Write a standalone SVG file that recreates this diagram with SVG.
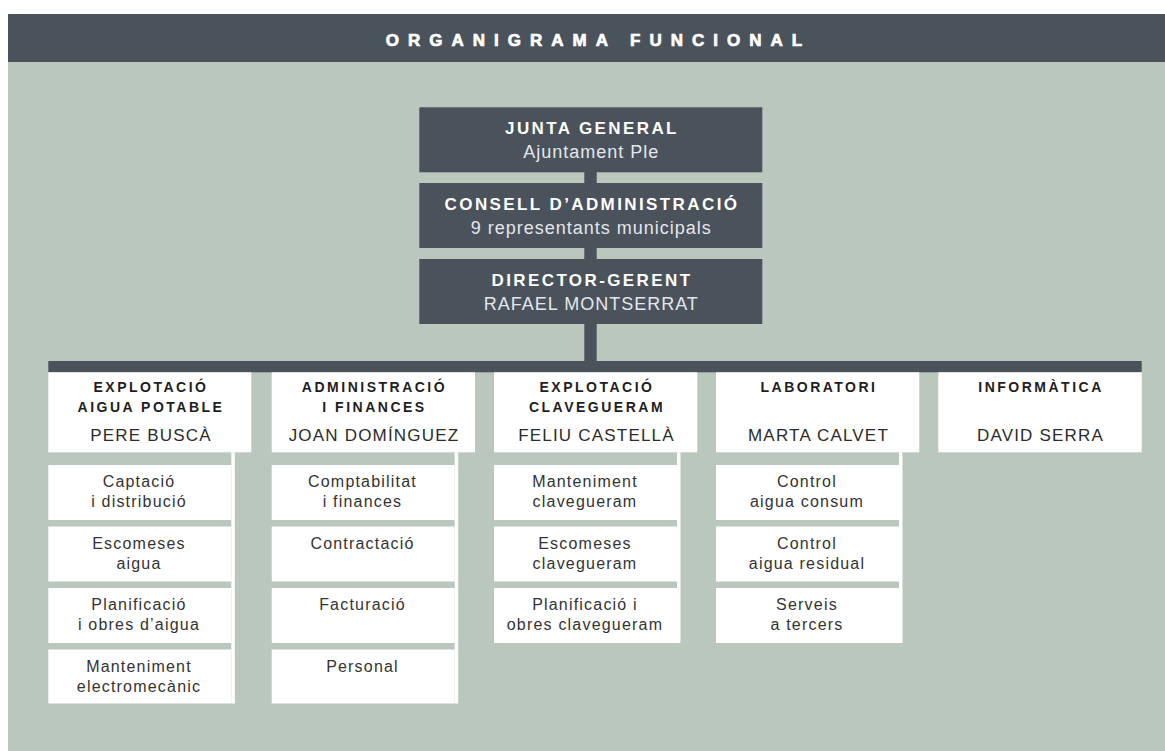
<svg xmlns="http://www.w3.org/2000/svg" width="1165" height="751" viewBox="0 0 1165 751">
<style>
.bg{fill:#b9c7bd}
.dark{fill:#4a525c}
.wbox{fill:#ffffff}
.hdr{font-family:"Liberation Sans",Arial,sans-serif;font-weight:900;font-size:17px;letter-spacing:9px;fill:#ffffff;stroke:#ffffff;stroke-width:0.7px;text-anchor:middle}
.ttl{font-family:"Liberation Sans",Arial,sans-serif;font-weight:bold;font-size:17px;letter-spacing:2.4px;fill:#ffffff;text-anchor:middle}
.sub{font-family:"Liberation Sans",Arial,sans-serif;font-size:18px;letter-spacing:1px;fill:#e4e7ea;text-anchor:middle}
.dt{font-family:"Liberation Sans",Arial,sans-serif;font-weight:bold;font-size:14px;letter-spacing:2.5px;fill:#1e1e1e;text-anchor:middle}
.dn{font-family:"Liberation Sans",Arial,sans-serif;font-size:17px;letter-spacing:1.2px;fill:#2b2b2b;text-anchor:middle}
.st{font-family:"Liberation Sans",Arial,sans-serif;font-size:16px;letter-spacing:1.2px;fill:#333333;text-anchor:middle}
</style>
<rect x="0" y="0" width="1165" height="751" fill="#ffffff"/>
<rect class="bg" x="8" y="62" width="1157" height="689"/>
<g id="header">
<rect class="dark" x="8" y="14" width="1157" height="48"/>
<text class="hdr" x="598.5" y="46">ORGANIGRAMA FUNCIONAL</text>
</g>
<g id="connectors">
<rect class="dark" x="584.3" y="170" width="12.4" height="192"/>
<rect class="dark" x="48.3" y="361" width="1093.4" height="11.3"/>
<rect class="wbox" x="231.3" y="452.3" width="3.5" height="251.2"/>
<rect class="wbox" x="454.7" y="452.3" width="3.5" height="251.2"/>
<rect class="wbox" x="677" y="452.3" width="3.5" height="190.7"/>
<rect class="wbox" x="899" y="452.3" width="3.5" height="190.7"/>
</g>
<g id="junta">
<rect class="dark" x="419.3" y="107.3" width="343" height="65"/>
<text class="ttl" x="592" y="133.5">JUNTA GENERAL</text>
<text class="sub" x="591.3" y="158.3">Ajuntament Ple</text>
</g>
<g id="consell">
<rect class="dark" x="419.3" y="183" width="343" height="65"/>
<text class="ttl" x="592" y="210">CONSELL D’ADMINISTRACIÓ</text>
<text class="sub" x="591.3" y="233.5">9 representants municipals</text>
</g>
<g id="director">
<rect class="dark" x="419.3" y="259" width="343" height="65"/>
<text class="ttl" x="592" y="285.7">DIRECTOR-GERENT</text>
<text class="sub" x="591.3" y="310">RAFAEL MONTSERRAT</text>
</g>
<g id="aigua-potable">
<rect class="wbox" x="48.3" y="372.3" width="203" height="80"/>
<text class="dt" x="151" y="392.3">EXPLOTACIÓ</text>
<text class="dt" x="151" y="412.3">AIGUA POTABLE</text>
<text class="dn" x="151" y="441">PERE BUSCÀ</text>
</g>
<g id="captacio"><rect class="wbox" x="48.3" y="465" width="183" height="55"/><text class="st" x="139" y="487">Captació</text><text class="st" x="139" y="507">i distribució</text></g>
<g id="escomeses-aigua"><rect class="wbox" x="48.3" y="526.5" width="183" height="55"/><text class="st" x="139" y="548.5">Escomeses</text><text class="st" x="139" y="568.5">aigua</text></g>
<g id="planificacio-aigua"><rect class="wbox" x="48.3" y="588" width="183" height="55"/><text class="st" x="139" y="610">Planificació</text><text class="st" x="139" y="630">i obres d’aigua</text></g>
<g id="manteniment-electro"><rect class="wbox" x="48.3" y="649.5" width="183" height="54"/><text class="st" x="139" y="671.5">Manteniment</text><text class="st" x="139" y="691.5">electromecànic</text></g>
<g id="administracio">
<rect class="wbox" x="271.7" y="372.3" width="203.3" height="80"/>
<text class="dt" x="374.5" y="392.3">ADMINISTRACIÓ</text>
<text class="dt" x="374.5" y="412.3">I FINANCES</text>
<text class="dn" x="374" y="441">JOAN DOMÍNGUEZ</text>
</g>
<g id="comptabilitat"><rect class="wbox" x="271.7" y="465" width="183" height="55"/><text class="st" x="362.5" y="487">Comptabilitat</text><text class="st" x="362.5" y="507">i finances</text></g>
<g id="contractacio"><rect class="wbox" x="271.7" y="526.5" width="183" height="55"/><text class="st" x="362.5" y="548.5">Contractació</text></g>
<g id="facturacio"><rect class="wbox" x="271.7" y="588" width="183" height="55"/><text class="st" x="362.5" y="610">Facturació</text></g>
<g id="personal"><rect class="wbox" x="271.7" y="649.5" width="183" height="54"/><text class="st" x="362.5" y="671.5">Personal</text></g>
<g id="clavegueram">
<rect class="wbox" x="494" y="372.3" width="203.3" height="80"/>
<text class="dt" x="597" y="392.3">EXPLOTACIÓ</text>
<text class="dt" x="597" y="412.3">CLAVEGUERAM</text>
<text class="dn" x="596.5" y="441">FELIU CASTELLÀ</text>
</g>
<g id="manteniment-clav"><rect class="wbox" x="494" y="465" width="183" height="55"/><text class="st" x="585" y="487">Manteniment</text><text class="st" x="585" y="507">clavegueram</text></g>
<g id="escomeses-clav"><rect class="wbox" x="494" y="526.5" width="183" height="55"/><text class="st" x="585" y="548.5">Escomeses</text><text class="st" x="585" y="568.5">clavegueram</text></g>
<g id="planificacio-clav"><rect class="wbox" x="494" y="588" width="183" height="55"/><text class="st" x="585" y="610">Planificació i</text><text class="st" x="585" y="630">obres clavegueram</text></g>
<g id="laboratori">
<rect class="wbox" x="716" y="372.3" width="203.3" height="80"/>
<text class="dt" x="819" y="392.3">LABORATORI</text>
<text class="dn" x="818.5" y="441">MARTA CALVET</text>
</g>
<g id="control-consum"><rect class="wbox" x="716" y="465" width="183" height="55"/><text class="st" x="807" y="487">Control</text><text class="st" x="807" y="507">aigua consum</text></g>
<g id="control-residual"><rect class="wbox" x="716" y="526.5" width="183" height="55"/><text class="st" x="807" y="548.5">Control</text><text class="st" x="807" y="568.5">aigua residual</text></g>
<g id="serveis"><rect class="wbox" x="716" y="588" width="183" height="55"/><text class="st" x="807" y="610">Serveis</text><text class="st" x="807" y="630">a tercers</text></g>
<g id="informatica">
<rect class="wbox" x="938.3" y="372.3" width="203.4" height="80"/>
<text class="dt" x="1041" y="392.3">INFORMÀTICA</text>
<text class="dn" x="1040.5" y="441">DAVID SERRA</text>
</g>
</svg>
